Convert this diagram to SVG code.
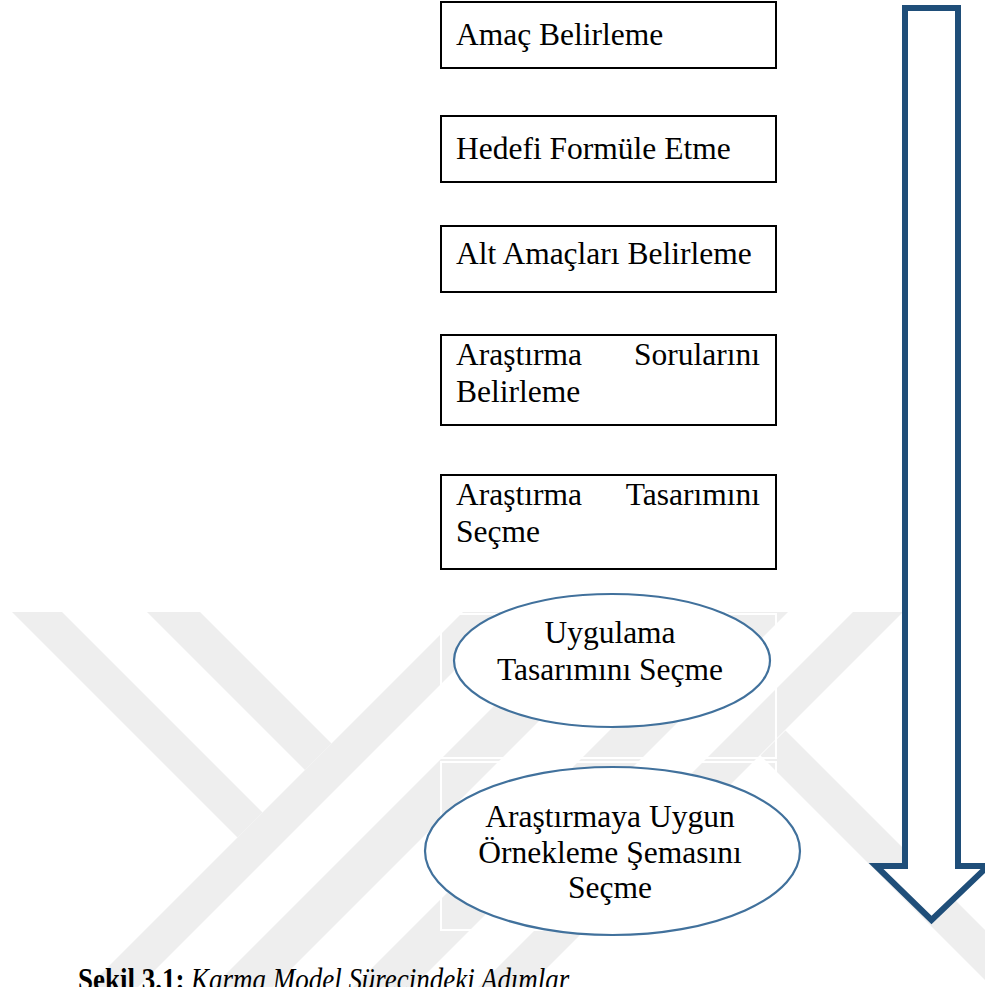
<svg xmlns="http://www.w3.org/2000/svg" width="985" height="987" viewBox="0 0 985 987">
  <defs>
    <clipPath id="wm-clip">
      <rect x="0" y="612" width="985" height="375"/>
    </clipPath>
    <style>
      .step { fill: #ffffff; stroke: #000000; stroke-width: 2; }
      .oval { fill: #ffffff; stroke: #41719c; stroke-width: 2.2; }
      .frame { fill: none; stroke: #ffffff; stroke-width: 2; }
      .lbl { font-family: "Liberation Serif", "Times New Roman", serif; font-size: 31.5px; fill: #000000; }
      .mid { text-anchor: middle; }
      .end { text-anchor: end; }
      .band { fill: #eeeeee; }
      .flow { fill: #ffffff; stroke: #1f4e79; stroke-width: 6; stroke-linejoin: miter; stroke-miterlimit: 10; }
      .cap { font-family: "Liberation Serif", "Times New Roman", serif; font-size: 31px; fill: #000000; }
    </style>
  </defs>

  <rect width="985" height="987" fill="#ffffff"/>

  <!-- faint background emblem: diagonal strips -->
  <g id="emblem" clip-path="url(#wm-clip)">
    <!-- down-right arms on the left -->
    <polygon class="band" points="12,612 62,612 262.5,812.5 237.5,837.5"/>
    <polygon class="band" points="147,612 200,612 331.5,743.5 305,770"/>
    <!-- long up-right strips -->
    <polygon class="band" points="463,612 513,612 125,1000 75,1000"/>
    <polygon class="band" points="588,612 648,612 260,1000 200,1000"/>
    <polygon class="band" points="728,612 788,612 400,1000 340,1000"/>
    <polygon class="band" points="853,612 903,612 515,1000 465,1000"/>
    <!-- down-right arm on the right -->
    <polygon class="band" points="760.5,755.5 785.5,730.5 1000,945 1000,995"/>
  </g>

  <!-- frames behind the ovals -->
  <rect class="frame" x="441" y="614" width="335" height="144"/>
  <rect class="frame" x="441" y="762" width="335" height="168"/>

  <!-- direction arrow -->
  <g id="connectors">
    <path class="flow" d="M905,8 H958 V866 H988 L931.5,920 L876,866 H905 Z"/>
  </g>

  <g id="step1">
    <rect class="step" x="441" y="2" width="335" height="66"/>
    <text class="lbl" x="456" y="45">Amaç Belirleme</text>
  </g>

  <g id="step2">
    <rect class="step" x="441" y="116" width="335" height="66"/>
    <text class="lbl" x="456" y="159">Hedefi Formüle Etme</text>
  </g>

  <g id="step3">
    <rect class="step" x="441" y="226" width="335" height="66"/>
    <text class="lbl" x="456" y="264">Alt Amaçları Belirleme</text>
  </g>

  <g id="step4">
    <rect class="step" x="441" y="335" width="335" height="90"/>
    <text class="lbl" x="456" y="365">Araştırma</text>
    <text class="lbl end" x="760" y="365">Sorularını</text>
    <text class="lbl" x="456" y="402">Belirleme</text>
  </g>

  <g id="step5">
    <rect class="step" x="441" y="475" width="335" height="94"/>
    <text class="lbl" x="456" y="505">Araştırma</text>
    <text class="lbl end" x="760" y="505">Tasarımını</text>
    <text class="lbl" x="456" y="542">Seçme</text>
  </g>

  <g id="step6">
    <ellipse class="oval" cx="612" cy="660.5" rx="158" ry="66.5"/>
    <text class="lbl mid" x="610" y="643">Uygulama</text>
    <text class="lbl mid" x="610" y="680">Tasarımını Seçme</text>
  </g>

  <g id="step7">
    <ellipse class="oval" cx="612.5" cy="851" rx="187.5" ry="84"/>
    <text class="lbl mid" x="610" y="827">Araştırmaya Uygun</text>
    <text class="lbl mid" x="610" y="863">Örnekleme Şemasını</text>
    <text class="lbl mid" x="610" y="898">Seçme</text>
  </g>

  <!-- caption, set in a narrowed face -->
  <g transform="translate(78,990) scale(0.87,1)">
    <text class="cap" x="0" y="0"><tspan font-weight="bold">Şekil 3.1:</tspan> <tspan font-style="italic">Karma Model Sürecindeki Adımlar</tspan></text>
  </g>
</svg>
